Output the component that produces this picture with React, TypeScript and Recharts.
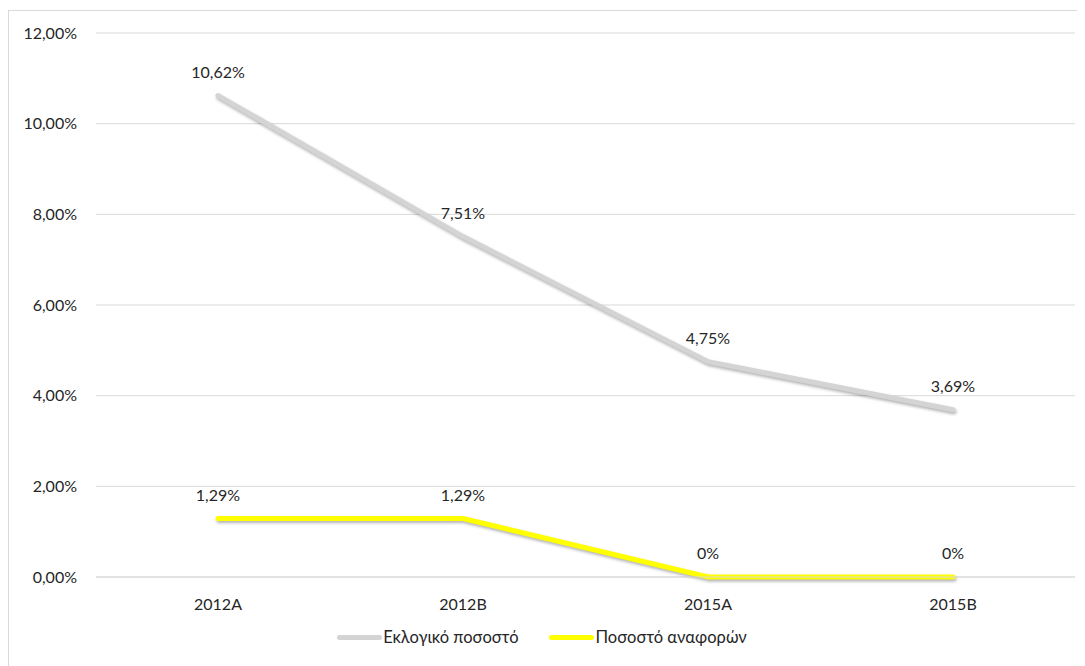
import { LineChart, Line, XAxis, YAxis, CartesianGrid, Legend, LabelList } from "recharts";

const categories = ["2012A", "2012B", "2015A", "2015B"];
const electoral = [10.62, 7.51, 4.75, 3.69];
const reports = [1.29, 1.29, 0, 0];
const yTicks = [0, 2, 4, 6, 8, 10, 12];

const data = categories.map((cat, i) => ({ cat, electoral: electoral[i], reports: reports[i] }));

const FONT = "Lato, 'Open Sans', sans-serif";
const TEXT = "#262626";

const fmtTick = (v: number) => v.toFixed(2).replace(".", ",") + "%";
const fmtLabel = (v: number) => (v === 0 ? "0%" : v.toFixed(2).replace(".", ",") + "%");

function LegendContent() {
  const items = [
    { name: "Εκλογικό ποσοστό", color: "#d4d4d4" },
    { name: "Ποσοστό αναφορών", color: "#ffff00" },
  ];
  return (
    <div style={{ display: "flex", justifyContent: "center", gap: 31, fontFamily: FONT, fontSize: 16.5, color: TEXT, paddingLeft: 0 }}>
      {items.map((it) => (
        <span key={it.name} style={{ display: "flex", alignItems: "center" }}>
          <span style={{ width: 45, height: 5, borderRadius: 3, background: it.color, marginRight: 1 }} />
          {it.name}
        </span>
      ))}
    </div>
  );
}

export default function App() {
  return (
    <div style={{ marginTop: 2, width: 1075, height: 660, border: "1px solid #d9d9d9", background: "#fff" }}>
      <style>{`.recharts-line-curve { filter: drop-shadow(1px 2px 1.5px rgba(0,0,0,0.3)); }`}</style>
      <LineChart width={1075} height={660} data={data} margin={{ top: 22, right: 9, left: 0, bottom: 10 }}>
        <CartesianGrid vertical={false} stroke="#d9d9d9" />
        <XAxis
          dataKey="cat"
          axisLine={{ stroke: "#d9d9d9" }}
          tickLine={false}
          tickMargin={16}
          height={50}
          padding={{ left: 122, right: 122 }}
          tick={{ fontSize: 16, fill: TEXT, fontFamily: FONT }}
        />
        <YAxis
          width={87}
          domain={[0, 12]}
          ticks={yTicks}
          tickFormatter={fmtTick}
          axisLine={false}
          tickLine={false}
          tickMargin={13}
          tick={{ fontSize: 16, fill: TEXT, fontFamily: FONT }}
        />
        <Legend verticalAlign="bottom" height={34} content={<LegendContent />} />
        <Line
          dataKey="electoral"
          name="Εκλογικό ποσοστό"
          stroke="#d4d4d4"
          strokeWidth={5}
          strokeLinecap="round"
          dot={false}
          isAnimationActive={false}
        >
          <LabelList dataKey="electoral" position="top" offset={18} formatter={fmtLabel} style={{ fontSize: 16, fill: TEXT, fontFamily: FONT }} />
        </Line>
        <Line
          dataKey="reports"
          name="Ποσοστό αναφορών"
          stroke="#ffff00"
          strokeWidth={5}
          strokeLinecap="round"
          dot={false}
          isAnimationActive={false}
        >
          <LabelList dataKey="reports" position="top" offset={18} formatter={fmtLabel} style={{ fontSize: 16, fill: TEXT, fontFamily: FONT }} />
        </Line>
      </LineChart>
    </div>
  );
}
